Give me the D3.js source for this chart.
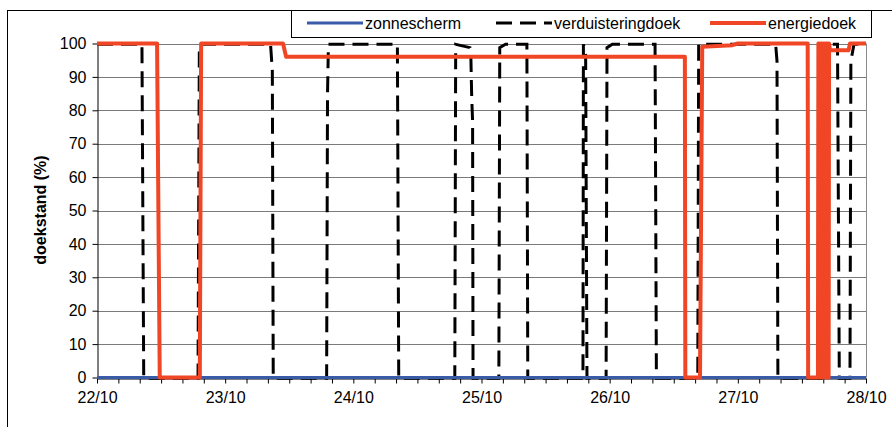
<!DOCTYPE html>
<html lang="nl">
<head>
  <meta charset="UTF-8">
  <title>doekstand</title>
  <script src="https://d3js.org/d3.v7.min.js"></script>
  <style>
    body {
      margin: 0;
      background: #fff;
      font-family: Arial, "Liberation Sans", sans-serif;
    }
    svg { display: block; }
    .grid line { stroke: #7a7a7a; stroke-width: 1px; }
    .axis text { font-size: 16px; fill: #000; font-family: Arial, "Liberation Sans", sans-serif; }
    .axis path, .axis line { stroke: #000; }
    .legend text { font-size: 16px; }
  </style>
</head>
<body>
<svg width="892" height="427"></svg>
<script>
  // x axis labels (one per day) and y ticks
  const dayLabels = ["22/10", "23/10", "24/10", "25/10", "26/10", "27/10", "28/10"];
  const yTicks = [0, 10, 20, 30, 40, 50, 60, 70, 80, 90, 100];

  // series: [dd/mm hh:mm, doekstand %]
  const zonnescherm = [
    ["22/10 00:00", 0], ["28/10 00:00", 0]
  ];

  const verduisteringdoek = [
    ["22/10 00:00", 100], ["22/10 08:25", 100], ["22/10 08:45", 0],
    ["22/10 18:55", 0], ["22/10 19:10", 100],
    ["23/10 08:30", 100], ["23/10 08:50", 92], ["23/10 09:00", 0],
    ["23/10 19:00", 0], ["23/10 19:10", 85], ["23/10 19:20", 100],
    ["24/10 08:15", 100], ["24/10 08:30", 0],
    ["24/10 19:00", 0], ["24/10 19:10", 100], ["24/10 21:50", 99], ["24/10 22:00", 97],
    ["24/10 22:10", 84], ["24/10 22:20", 77], ["24/10 22:25", 0],
    ["25/10 03:15", 0], ["25/10 03:25", 99], ["25/10 04:30", 100], ["25/10 08:30", 100], ["25/10 08:40", 0],
    ["25/10 19:00", 0], ["25/10 19:05", 100], ["25/10 19:30", 97], ["25/10 19:45", 0],
    ["25/10 23:20", 0], ["25/10 23:30", 99], ["26/10 00:30", 100], ["26/10 08:30", 100], ["26/10 08:45", 0],
    ["26/10 16:30", 0], ["26/10 16:40", 100],
    ["27/10 07:05", 100], ["27/10 07:20", 95], ["27/10 07:30", 0],
    ["27/10 16:40", 0], ["27/10 16:45", 100], ["27/10 18:40", 100], ["27/10 19:00", 0],
    ["27/10 21:00", 0], ["27/10 21:10", 95], ["27/10 21:45", 100], ["28/10 00:00", 100]
  ];

  const energiedoek = [
    ["22/10 00:00", 100], ["22/10 11:15", 100], ["22/10 11:45", 0],
    ["22/10 19:15", 0], ["22/10 19:30", 100],
    ["23/10 10:50", 100], ["23/10 11:25", 96],
    ["26/10 14:05", 96], ["26/10 14:10", 0],
    ["26/10 16:55", 0], ["26/10 17:20", 99], ["26/10 23:00", 99.5], ["27/10 00:00", 100],
    ["27/10 13:05", 100], ["27/10 13:10", 0],
    ["27/10 15:00", 0], ["27/10 15:05", 100], ["27/10 15:15", 100], ["27/10 15:20", 0],
    ["27/10 15:30", 0], ["27/10 15:35", 100], ["27/10 15:45", 100], ["27/10 15:50", 0],
    ["27/10 16:00", 0], ["27/10 16:05", 100], ["27/10 16:15", 100], ["27/10 16:20", 0],
    ["27/10 16:30", 0], ["27/10 16:35", 100], ["27/10 16:45", 100], ["27/10 16:50", 0],
    ["27/10 17:00", 0], ["27/10 17:05", 100], ["27/10 17:15", 98],
    ["27/10 20:45", 98], ["27/10 21:00", 100], ["28/10 00:00", 100]
  ];

  const parse = d3.utcParse("%d/%m %H:%M");
  const svg = d3.select("svg");

  const x = d3.scaleUtc()
          .domain([parse("22/10 00:00"), parse("28/10 00:00")])
          .range([97, 866]);
  const y = d3.scaleLinear().domain([0, 100]).range([377.5, 43.5]);

  // outer chart frame (runs off the picture right and bottom)
  svg.append("rect")
          .attr("x", 7.5).attr("y", 10.5)
          .attr("width", 900).attr("height", 440)
          .attr("fill", "none").attr("stroke", "#000");

  // gridlines
  svg.append("g").attr("class", "grid")
          .selectAll("line")
          .data(yTicks.filter(d => d > 0))
          .join("line")
          .attr("x1", 97).attr("x2", 866)
          .attr("y1", d => Math.round(y(d)) + 0.5)
          .attr("y2", d => Math.round(y(d)) + 0.5);

  svg.append("line")
          .attr("x1", 866.5).attr("x2", 866.5)
          .attr("y1", y(100)).attr("y2", y(0))
          .attr("stroke", "#8a8a8a");

  // axes
  const xAxis = d3.axisBottom(x)
          .ticks(d3.utcHour.every(4))
          .tickSize(5)
          .tickSizeOuter(0)
          .tickFormat(d => d.getUTCHours() === 0
                  ? dayLabels[Math.round((d - x.domain()[0]) / 864e5)] : "");
  svg.append("g").attr("class", "axis")
          .attr("transform", `translate(0,${Math.round(y(0)) + 0.5})`)
          .call(xAxis)
          .call(g => g.selectAll("text").attr("dy", "1.05em"));

  const yAxis = d3.axisLeft(y)
          .tickValues(yTicks)
          .tickSize(5)
          .tickSizeOuter(0)
          .tickPadding(6);
  svg.append("g").attr("class", "axis")
          .attr("transform", "translate(97.5,0)")
          .call(yAxis);

  svg.append("text")
          .attr("transform", "translate(46,210) rotate(-90)")
          .attr("text-anchor", "middle")
          .attr("font-size", 16)
          .attr("font-weight", "bold")
          .text("doekstand (%)");

  // series
  const line = d3.line()
          .x(d => x(parse(d[0])))
          .y(d => y(d[1]));

  // dashed line sits a hair low so its dashes peek out under the blue at 0
  svg.append("path")
          .datum(verduisteringdoek)
          .attr("d", line)
          .attr("transform", "translate(0,0.8)")
          .attr("fill", "none")
          .attr("stroke", "#000")
          .attr("stroke-width", 3)
          .attr("stroke-dasharray", "16,8");

  svg.append("path")
          .datum(zonnescherm)
          .attr("d", line)
          .attr("fill", "none")
          .attr("stroke", "#3a5ca8")
          .attr("stroke-width", 3);

  svg.append("path")
          .datum(energiedoek)
          .attr("d", line)
          .attr("fill", "none")
          .attr("stroke", "#f04626")
          .attr("stroke-width", 4)
          .attr("stroke-linejoin", "round");

  // legend
  const legend = svg.append("g").attr("class", "legend");
  legend.append("rect")
          .attr("x", 291.5).attr("y", 10.5)
          .attr("width", 580).attr("height", 27)
          .attr("fill", "#fff").attr("stroke", "#000");

  const legendItems = [
    { name: "zonnescherm", x1: 307, color: "#3a5ca8", dash: null, w: 3 },
    { name: "verduisteringdoek", x1: 496, color: "#000", dash: "16,8", w: 3 },
    { name: "energiedoek", x1: 710, color: "#f04626", dash: null, w: 4 }
  ];
  const li = legend.selectAll("g.item").data(legendItems).join("g").attr("class", "item");
  li.append("line")
          .attr("x1", d => d.x1).attr("x2", d => d.x1 + 56)
          .attr("y1", 23).attr("y2", 23)
          .attr("stroke", d => d.color)
          .attr("stroke-width", d => d.w)
          .attr("stroke-dasharray", d => d.dash);
  li.append("text")
          .attr("x", d => d.x1 + 58)
          .attr("y", 29)
          .text(d => d.name);
</script>
</body>
</html>
